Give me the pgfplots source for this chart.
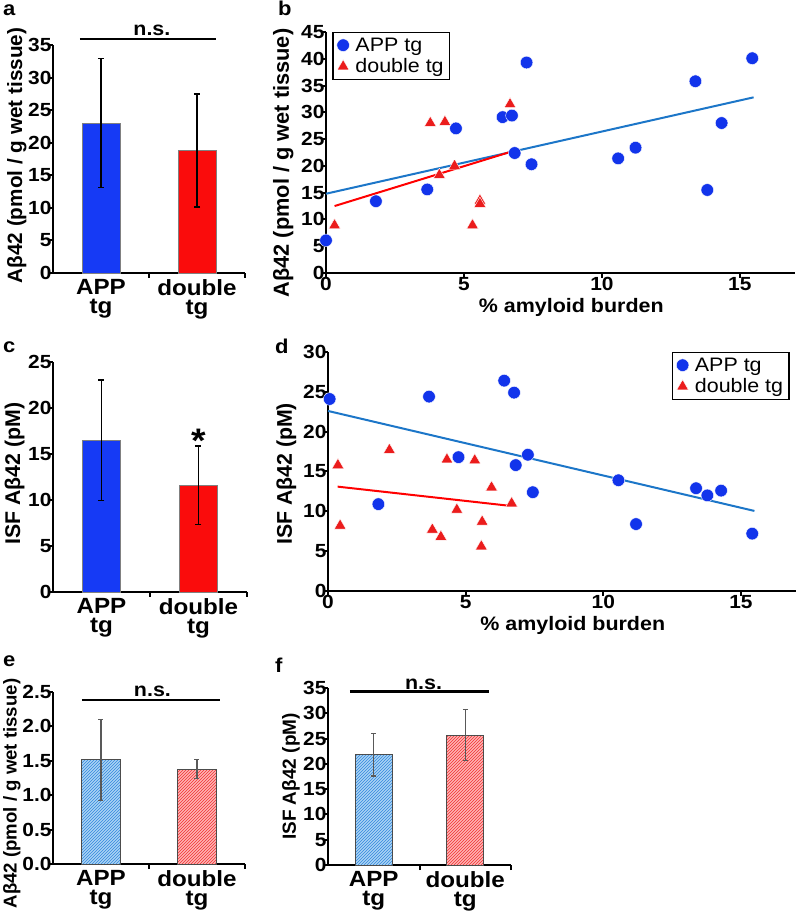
\documentclass[border=0pt]{standalone}
\usepackage{pgfplots}
\pgfplotsset{compat=1.18}
\usepackage{fontspec}
\setmainfont{Liberation Sans}[FakeStretch=1.1]
\newfontfamily\ylabfont{Liberation Sans}
\usetikzlibrary{patterns}
\definecolor{barblue}{RGB}{22,58,245}
\definecolor{barred}{RGB}{250,12,12}
\definecolor{ptblue}{RGB}{18,52,235}
\definecolor{ptred}{RGB}{235,28,28}
\definecolor{lineblue}{RGB}{28,118,200}
\definecolor{hblue}{RGB}{170,212,245}
\definecolor{hbluel}{RGB}{50,135,220}
\definecolor{hred}{RGB}{255,180,180}
\definecolor{hredl}{RGB}{240,50,50}

\pgfplotsset{
  panel/.style={
    scale only axis, anchor=south west,
    axis x line*=bottom, axis y line*=left,
    axis line style={line width=2.4pt, black},
    tick align=outside, major tick length=5pt,
    tick style={line width=2pt, black},
    /pgf/number format/assume math mode=true,
    tick label style={font=\fontsize{19}{20}\selectfont\bfseries},
    yticklabel style={xshift=7pt},
    xticklabel style={yshift=4pt},
    label style={font=\fontsize{19.5}{22}\selectfont\bfseries},
    clip=false,
  },
  barpanel/.style={
    panel, xmin=-0.5, xmax=1.5, ymin=0,
    xtick={0.5,1.5}, xticklabels={},
    extra x ticks={0,1},
    extra x tick labels={{APP\\tg},{double\\tg}},
    extra x tick style={major tick length=0pt,
      tick label style={align=center, yshift=-7pt, font=\fontsize{22}{19}\selectfont\bfseries}},
  },
  ebar/.style={error bars/.cd, y dir=both, y explicit,
      error bar style={line width=1.5pt, black},
      error mark options={rotate=90, mark size=3pt, line width=1.5pt, black}},
  gbar/.style={error bars/.cd, y dir=both, y explicit,
      error bar style={line width=1.2pt, black!65},
      error mark options={rotate=90, mark size=2.5pt, line width=1.2pt, black!65}},
  leg/.style={legend cell align=left,
    legend style={draw=black, line width=1.5pt,
      font=\fontsize{19.5}{21}\selectfont, inner xsep=4pt, inner ysep=3pt, row sep=2pt,
      /tikz/every odd column/.append style={column sep=4pt}}},
}

\begin{document}
\begin{tikzpicture}
\useasboundingbox (0pt,0pt) rectangle (797pt,914pt);

% panel letters
\node[anchor=base west, inner sep=0, font=\fontsize{20}{20}\selectfont\bfseries] at (3pt,898pt) {a};
\node[anchor=base west, inner sep=0, font=\fontsize{20}{20}\selectfont\bfseries] at (278pt,898pt) {b};
\node[anchor=base west, inner sep=0, font=\fontsize{20}{20}\selectfont\bfseries] at (3pt,561pt) {c};
\node[anchor=base west, inner sep=0, font=\fontsize{20}{20}\selectfont\bfseries] at (275pt,560pt) {d};
\node[anchor=base west, inner sep=0, font=\fontsize{20}{20}\selectfont\bfseries] at (3pt,247pt) {e};
\node[anchor=base west, inner sep=0, font=\fontsize{20}{20}\selectfont\bfseries] at (275pt,241pt) {f};

% ---------------- panel a
\begin{axis}[barpanel, at={(53pt,641pt)}, width=192pt, height=228pt,
  ymax=35, ytick={0,5,...,35},
  ylabel={Aβ42 (pmol / g wet tissue)},
  ylabel style={at={(axis description cs:-0.161,0.515)}, anchor=base,
    font=\ylabfont\fontsize{20.7}{22}\selectfont\bfseries}]
\addplot[ybar, bar shift=0pt, bar width=38pt, fill=barblue, draw=gray, line width=0.6pt, ebar]
  coordinates {(0,23.0) +- (0,9.9)};
\addplot[ybar, bar shift=0pt, bar width=38pt, fill=barred, draw=gray, line width=0.6pt, ebar]
  coordinates {(1,18.8) +- (0,8.7)};
\draw[line width=2.4pt] (axis cs:-0.22,35.9) -- (axis cs:1.2,35.9);
\node[anchor=base, inner sep=0, font=\fontsize{19.5}{20}\selectfont\bfseries] at (axis cs:0.53,36.4) {n.s.};
\end{axis}

% ---------------- panel b
\begin{axis}[panel, leg, at={(326pt,641pt)}, width=469pt, height=241pt,
  xmin=0, xmax=17, ymin=0, ymax=45, xtick={0,5,10,15}, ytick={0,5,...,45},
  xlabel={\% amyloid burden},
  xlabel style={at={(axis description cs:0.523,0)}, anchor=base, yshift=-40pt},
  ylabel={Aβ42 (pmol / g wet tissue)},
  ylabel style={at={(axis description cs:-0.079,0.456)}, anchor=base,
    font=\ylabfont\fontsize{21.8}{22}\selectfont\bfseries},
  legend style={at={(0.013,1)}, anchor=north west}]
\addplot[lineblue, line width=2pt, forget plot] coordinates {(0,14.8) (15.5,32.8)};
\addplot[red, line width=2pt, forget plot] coordinates {(0.31,12.5) (6.74,22.7)};
\addplot[only marks, mark=*, mark size=6.3pt, mark options={fill=ptblue, draw=white, line width=0.4pt}]
  coordinates {(0,6.1) (1.81,13.4) (3.67,15.6) (4.71,27.0) (6.40,29.1) (6.74,29.4) (6.84,22.4)
  (7.27,39.3) (7.45,20.3) (10.59,21.4) (11.22,23.4) (13.39,35.8) (13.82,15.5) (14.34,28.0) (15.45,40.1)};
\addlegendentry{APP tg}
\addplot[only marks, mark=triangle*, mark size=6.8pt, mark options={fill=ptred, draw=white, line width=0.4pt}]
  coordinates {(0.31,8.9) (3.78,28.0) (4.31,28.2) (4.11,18.3) (4.66,20.0) (5.58,13.5) (5.58,12.9)
  (5.31,8.9) (6.67,31.5)};
\addlegendentry{double tg}
\end{axis}

% ---------------- panel c
\begin{axis}[barpanel, at={(53pt,322pt)}, width=194pt, height=230pt,
  ymax=25, ytick={0,5,...,25},
  ylabel={ISF Aβ42 (pM)},
  ylabel style={at={(axis description cs:-0.170,0.515)}, anchor=base,
    font=\ylabfont\fontsize{21.3}{22}\selectfont\bfseries}]
\addplot[ybar, bar shift=0pt, bar width=38pt, fill=barblue, draw=gray, line width=0.6pt, ebar]
  coordinates {(0,16.5) +- (0,6.55)};
\addplot[ybar, bar shift=0pt, bar width=38pt, fill=barred, draw=gray, line width=0.6pt, ebar]
  coordinates {(1,11.6) +- (0,4.25)};
\node[anchor=north, inner sep=0, font=\fontsize{34}{34}\selectfont\bfseries] at (axis cs:1,17.7) {*};
\end{axis}

% ---------------- panel d
\begin{axis}[panel, leg, at={(328pt,323pt)}, width=468pt, height=239pt,
  xmin=0, xmax=17, ymin=0, ymax=30, xtick={0,5,10,15}, ytick={0,5,...,30},
  xlabel={\% amyloid burden},
  xlabel style={at={(axis description cs:0.523,0)}, anchor=base, yshift=-40pt},
  ylabel={ISF Aβ42 (pM)},
  ylabel style={at={(axis description cs:-0.077,0.49)}, anchor=base,
    font=\ylabfont\fontsize{21.3}{22}\selectfont\bfseries},
  legend style={at={(0.987,1)}, anchor=north east}]
\addplot[lineblue, line width=2pt, forget plot] coordinates {(0,22.6) (15.49,10.05)};
\addplot[red, line width=2pt, forget plot] coordinates {(0.35,13.1) (6.58,10.7)};
\addplot[only marks, mark=*, mark size=6.3pt, mark options={fill=ptblue, draw=white, line width=0.4pt}]
  coordinates {(0.06,24.1) (1.83,10.9) (3.67,24.4) (4.74,16.8) (6.40,26.4) (6.76,24.9) (6.82,15.8)
  (7.26,17.1) (7.44,12.4) (10.55,13.9) (11.19,8.4) (13.37,12.9) (13.78,12.0) (14.28,12.6) (15.41,7.2)};
\addlegendentry{APP tg}
\addplot[only marks, mark=triangle*, mark size=6.8pt, mark options={fill=ptred, draw=white, line width=0.4pt}]
  coordinates {(0.36,15.8) (0.44,8.2) (2.23,17.7) (3.79,7.7) (4.10,6.8) (4.32,16.5) (4.68,10.2)
  (5.33,16.4) (5.60,8.7) (5.57,5.6) (5.94,13.0) (6.67,11.0)};
\addlegendentry{double tg}
\end{axis}

% ---------------- panel e
\begin{axis}[barpanel, at={(53pt,50pt)}, width=192pt, height=172pt,
  ymax=2.5, ytick={0,0.5,...,2.5},
  yticklabel style={/pgf/number format/.cd, fixed, fixed zerofill, precision=1},
  ylabel={Aβ42 (pmol / g wet tissue)},
  ylabel style={at={(axis description cs:-0.190,0.41)}, anchor=base,
    font=\ylabfont\fontsize{18.6}{22}\selectfont\bfseries}]
\addplot[ybar, bar shift=0pt, bar width=39pt, fill=hblue, draw=black!70, line width=0.6pt,
  postaction={pattern=north east lines, pattern color=hbluel}, gbar]
  coordinates {(0,1.515) +- (0,0.59)};
\addplot[ybar, bar shift=0pt, bar width=39pt, fill=hred, draw=black!70, line width=0.6pt,
  postaction={pattern=north east lines, pattern color=hredl}, gbar]
  coordinates {(1,1.38) +- (0,0.14)};
\draw[line width=2.4pt] (axis cs:-0.198,2.38) -- (axis cs:1.24,2.38);
\node[anchor=base, inner sep=0, font=\fontsize{19.5}{20}\selectfont\bfseries] at (axis cs:0.536,2.43) {n.s.};
\end{axis}

% ---------------- panel f
\begin{axis}[barpanel, at={(328pt,49pt)}, width=183pt, height=177pt,
  ymax=35, ytick={0,5,...,35},
  ylabel={ISF Aβ42 (pM)},
  ylabel style={at={(axis description cs:-0.175,0.5)}, anchor=base,
    font=\ylabfont\fontsize{19}{22}\selectfont\bfseries}]
\addplot[ybar, bar shift=0pt, bar width=37pt, fill=hblue, draw=black!70, line width=0.6pt,
  postaction={pattern=north east lines, pattern color=hbluel}, gbar]
  coordinates {(0,21.8) +- (0,4.2)};
\addplot[ybar, bar shift=0pt, bar width=37pt, fill=hred, draw=black!70, line width=0.6pt,
  postaction={pattern=north east lines, pattern color=hredl}, gbar]
  coordinates {(1,25.7) +- (0,5.05)};
\draw[line width=2.4pt] (axis cs:-0.26,34.3) -- (axis cs:1.256,34.3);
\node[anchor=base, inner sep=0, font=\fontsize{19.5}{20}\selectfont\bfseries] at (axis cs:0.544,34.8) {n.s.};
\end{axis}
\end{tikzpicture}
\end{document}
